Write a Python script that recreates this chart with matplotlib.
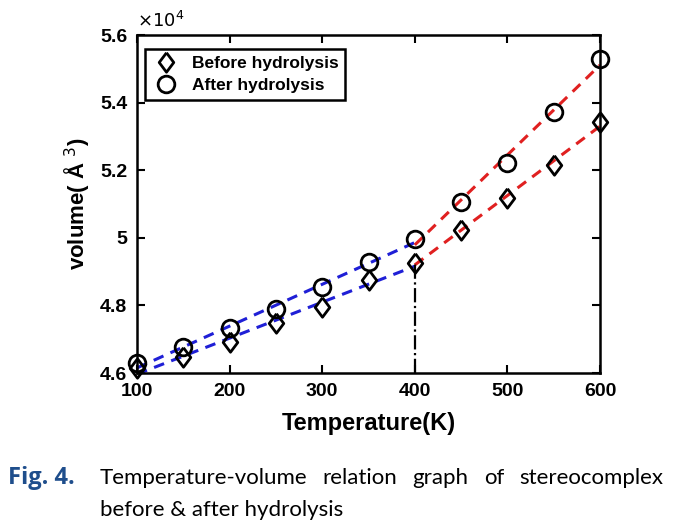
import numpy as np
import matplotlib
matplotlib.use('Agg')
import matplotlib.pyplot as plt

plt.rcParams['font.family'] = ['Liberation Sans', 'DejaVu Sans']

# temperature (K) and volume (x10^4 A^3)
temp = [100, 150, 200, 250, 300, 350, 400, 450, 500, 550, 600]
vol_before = [4.615, 4.647, 4.691, 4.747, 4.794, 4.874, 4.926, 5.023, 5.118, 5.215, 5.343]
vol_after = [4.629, 4.676, 4.732, 4.788, 4.853, 4.929, 4.997, 5.106, 5.221, 5.372, 5.529]
t_split = 400

x = np.array(temp)
low = x <= t_split
high = x >= t_split

fig = plt.figure(figsize=(6.83, 5.27), dpi=100)
ax = fig.add_axes([137/683, 1 - 373/527, 463/683, 338/527])

# fitted trend lines, blue below the split, red above
for vals in (vol_before, vol_after):
    y = np.array(vals)
    for mask, col in ((low, '#1f1fd6'), (high, '#e02020')):
        k, b = np.polyfit(x[mask], y[mask], 1)
        xs = x[mask][[0, -1]]
        ax.plot(xs, k * xs + b, color=col, lw=2.2, ls=(0, (3.5, 2.5)), zorder=2)

ax.plot([t_split, t_split], [4.6, vol_before[temp.index(t_split)]],
        color='black', lw=1.6, ls='-.', zorder=2)

diamond = [(0, 1), (0.75, 0), (0, -1), (-0.75, 0), (0, 1)]
ax.plot(temp, vol_before, ls='none', marker=diamond, ms=14, mfc='none', mec='black',
        mew=2, label='Before hydrolysis', zorder=3, clip_on=False)
ax.plot(temp, vol_after, ls='none', marker='o', ms=12, mfc='none', mec='black',
        mew=2, label='After hydrolysis', zorder=3, clip_on=False)

ax.set_xlim(100, 600)
ax.set_ylim(4.6, 5.6)
ax.set_xticks([100, 200, 300, 400, 500, 600])
ax.set_yticks([4.6, 4.8, 5.0, 5.2, 5.4, 5.6])
ax.set_yticklabels(['4.6', '4.8', '5', '5.2', '5.4', '5.6'])
ax.tick_params(direction='in', top=True, right=True, length=6, width=1.5,
               labelsize=14, pad=7)
for lab in ax.get_xticklabels() + ax.get_yticklabels():
    lab.set_fontweight('bold')
for s in ax.spines.values():
    s.set_linewidth(1.8)

ax.text(0, 1.012, r'$\times10^{4}$', transform=ax.transAxes, fontsize=13,
        ha='left', va='bottom')

ax.set_xlabel('Temperature(K)', fontsize=17, fontweight='bold', labelpad=9)
ax.set_ylabel('volume( Å $^{3}$)', fontsize=16, fontweight='bold', labelpad=6)

leg = ax.legend(loc='upper left', bbox_to_anchor=(0.017, 0.96), borderaxespad=0,
                fancybox=False, edgecolor='black', framealpha=1, handletextpad=0.7,
                borderpad=0.4, labelspacing=0.4, handlelength=1.6,
                prop={'weight': 'bold', 'size': 12.5})
leg.get_frame().set_linewidth(1.8)

# caption
cap_font = dict(family=['Lato', 'DejaVu Sans'], fontsize=16)
fig.text(8/683, 1 - 478/527, 'Fig. 4.', color='#1f4e8c', fontweight='bold',
         va='center', ha='left', family=['Open Sans', 'DejaVu Sans'], fontsize=17)

words = 'Temperature-volume relation graph of stereocomplex'.split()
fig.canvas.draw()
r = fig.canvas.get_renderer()
items = [fig.text(0, 1 - 478/527, w, va='center', ha='left', **cap_font) for w in words]
widths = [t.get_window_extent(r).width for t in items]
x0, x1 = 100, 663
gap = (x1 - x0 - sum(widths)) / (len(words) - 1)
pos = x0
for t, w in zip(items, widths):
    t.set_x(pos / 683)
    pos += w + gap
fig.text(100/683, 1 - 510/527, 'before & after hydrolysis', va='center', ha='left', **cap_font)

fig.savefig('out.png', dpi=100)
